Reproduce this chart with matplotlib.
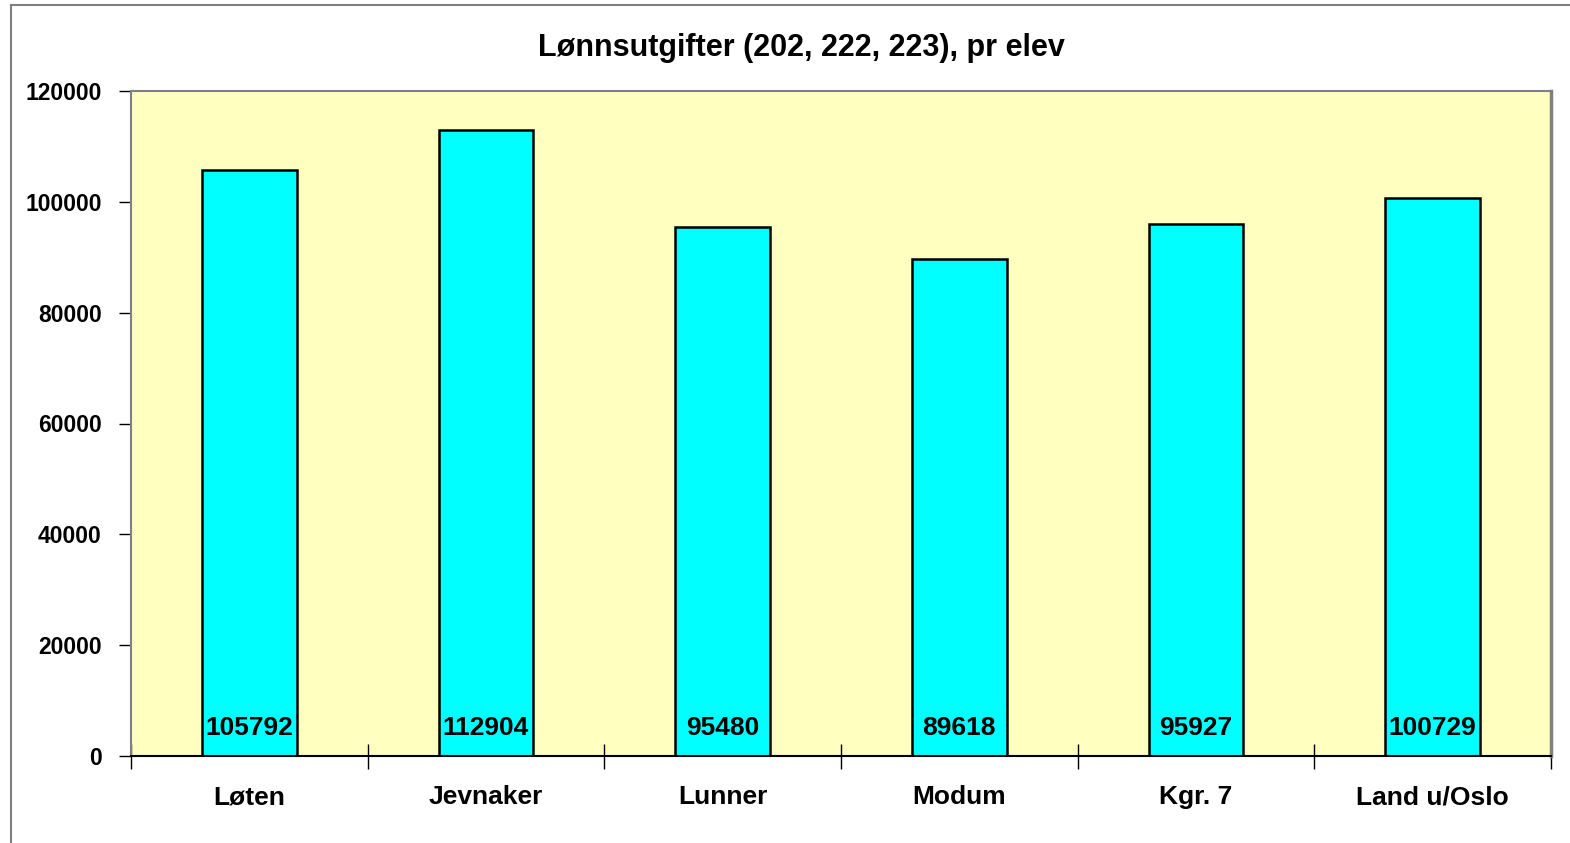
import matplotlib.pyplot as plt
import numpy as np
from matplotlib.lines import Line2D

# Données
kommuner = ["Løten", "Jevnaker", "Lunner", "Modum", "Kgr. 7", "Land u/Oslo"]
verdier = [105792, 112904, 95480, 89618, 95927, 100729]
yticks = [0, 20000, 40000, 60000, 80000, 100000, 120000]

plt.rcParams['font.family'] = ['Liberation Sans', 'DejaVu Sans']
plt.rcParams['font.weight'] = 'bold'

W, H = 1570, 843
fig = plt.figure(figsize=(W / 100, H / 100), dpi=100)

# cadre extérieur (seulement haut et gauche visibles)
fig.lines.append(Line2D([11 / W, 11 / W], [0, 1 - 5 / H], transform=fig.transFigure,
                        color='#808080', linewidth=1.5))
fig.lines.append(Line2D([11 / W, 1], [1 - 5 / H, 1 - 5 / H], transform=fig.transFigure,
                        color='#808080', linewidth=1.5))

ax = fig.add_axes([131 / W, 1 - 756 / H, (1551 - 131) / W, (756 - 91) / H])
ax.set_facecolor('#ffffc0')

x = np.arange(len(kommuner))
ax.bar(x, verdier, width=0.4, color='#00ffff', edgecolor='black', linewidth=1.8, zorder=2)

for xi, v in zip(x, verdier):
    ax.text(xi, 5000, str(v), ha='center', va='center', fontsize=19, fontweight='bold', zorder=3)

ax.set_xlim(-0.5, len(kommuner) - 0.5)
ax.set_ylim(0, 120000)
ax.set_yticks(yticks)
ax.set_yticklabels([str(t) for t in yticks], fontsize=16.5, fontweight='bold')
ax.set_xticks(x)
ax.set_xticklabels(kommuner, fontsize=19, fontweight='bold')
ax.tick_params(axis='x', length=0, pad=21)
ax.tick_params(axis='y', length=9, width=1, pad=12, direction='out')

# ticks entre les catégories
ax.set_xticks(np.arange(-0.5, len(kommuner)), minor=True)
ax.tick_params(axis='x', which='minor', length=18, width=1, direction='inout')

for side in ['top', 'right', 'left']:
    ax.spines[side].set_color('#808080')
    ax.spines[side].set_linewidth(1.5)
ax.spines['right'].set_linewidth(2.5)
ax.spines['bottom'].set_color('black')
ax.spines['bottom'].set_linewidth(1.5)

fig.text(801 / W, 1 - 48 / H, "Lønnsutgifter (202, 222, 223), pr elev", ha='center', va='center',
         fontsize=22, fontweight='bold')

fig.savefig('out.png', dpi=100)
